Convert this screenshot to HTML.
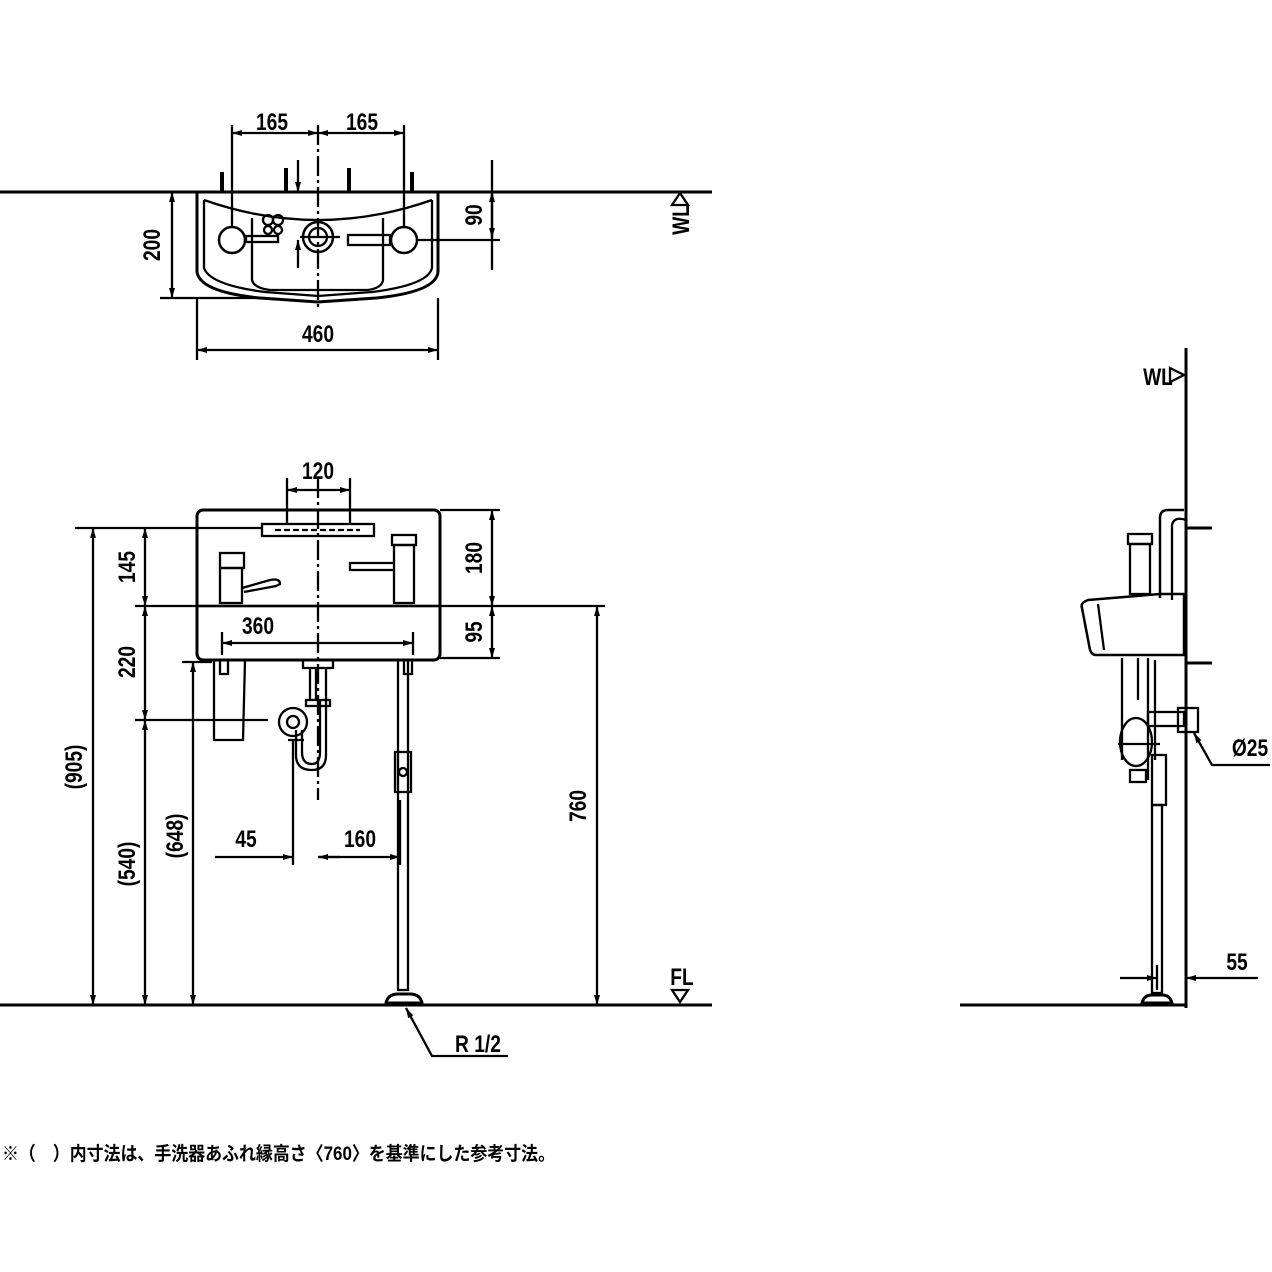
<!DOCTYPE html>
<html><head><meta charset="utf-8"><style>
html,body{margin:0;padding:0;background:#fff;}
svg{display:block}
text{font-family:"Liberation Sans","Noto Sans CJK JP",sans-serif;font-weight:bold;fill:#000}
.d{font-size:24px}
</style></head><body>
<svg width="1272" height="1272" viewBox="0 0 1272 1272" xmlns="http://www.w3.org/2000/svg">
<defs>
<marker id="a" viewBox="0 0 10 6" refX="10" refY="3" markerWidth="10" markerHeight="6" orient="auto-start-reverse" markerUnits="userSpaceOnUse"><path d="M0,0 L10,3 L0,6Z" fill="#000"/></marker>
</defs>
<g stroke="#000" fill="none" stroke-width="2.3">
<!-- TOP VIEW -->
<line x1="0" y1="192" x2="712" y2="192" stroke-width="3"/>
<path d="M197,192 L197,272 Q200,292 260,298 L318,302 L376,298 Q436,292 438,272 L438,192" stroke-width="3"/>
<path d="M204,200 L204,268 Q210,285 265,292 L318,296 L372,292 Q428,285 432,268 L432,200"/>
<path d="M204,200 Q318,240 432,200"/>
<path d="M252,218 L252,280 Q254,288 270,290 L368,290 Q382,288 383,280 L383,218"/>
<circle cx="232" cy="240" r="13" stroke-width="2.5"/>
<circle cx="404" cy="240" r="13" stroke-width="2.5"/>
<circle cx="318" cy="237" r="15" stroke-width="2.5"/>
<circle cx="318" cy="237" r="9"/>
<rect x="246" y="236" width="32" height="6"/>
<rect x="348" y="235" width="42" height="10"/>
<circle cx="268" cy="220" r="5"/><circle cx="278" cy="220" r="5"/><circle cx="268" cy="230" r="4"/><circle cx="278" cy="230" r="4"/>
<line x1="222" y1="172" x2="222" y2="192" stroke-width="4"/>
<line x1="286" y1="168" x2="286" y2="192" stroke-width="4"/>
<line x1="349" y1="168" x2="349" y2="192" stroke-width="4"/>
<line x1="412" y1="172" x2="412" y2="192" stroke-width="4"/>
<line x1="232" y1="125" x2="232" y2="228"/>
<line x1="404" y1="125" x2="404" y2="228"/>
<line x1="318" y1="125" x2="318" y2="310" stroke-dasharray="20,4,3,4"/>
<line x1="232" y1="133" x2="318" y2="133" marker-start="url(#a)" marker-end="url(#a)"/>
<line x1="318" y1="133" x2="404" y2="133" marker-start="url(#a)" marker-end="url(#a)"/>
<line x1="300" y1="237" x2="340" y2="237"/>
<line x1="298" y1="160" x2="298" y2="192" marker-end="url(#a)"/>
<line x1="298" y1="268" x2="298" y2="240" marker-end="url(#a)"/>
<line x1="417" y1="240" x2="500" y2="240"/>
<line x1="492" y1="160" x2="492" y2="270"/>
<line x1="492" y1="192" x2="492" y2="238" marker-start="url(#a)" marker-end="url(#a)"/>
<line x1="160" y1="192" x2="197" y2="192"/>
<line x1="160" y1="298" x2="260" y2="298"/>
<line x1="172" y1="192" x2="172" y2="298" marker-start="url(#a)" marker-end="url(#a)"/>
<line x1="197" y1="298" x2="197" y2="360"/>
<line x1="438" y1="298" x2="438" y2="360"/>
<line x1="197" y1="350" x2="438" y2="350" marker-start="url(#a)" marker-end="url(#a)"/>
<path d="M672,205 L680,193 L688,205Z"/>

<!-- FRONT VIEW -->
<line x1="0" y1="1005" x2="712" y2="1005" stroke-width="3"/>
<rect x="197" y="510" width="243" height="150" rx="6" stroke-width="3"/>
<line x1="197" y1="606" x2="440" y2="606" stroke-width="2.5"/>
<rect x="262" y="524" width="112" height="12"/>
<line x1="275" y1="530" x2="360" y2="530" stroke-dasharray="6,3"/>
<rect x="220" y="553" width="24" height="15"/><rect x="220" y="568" width="22" height="35"/>
<path d="M242,588 L270,580 Q280,578 280,584 L276,586 L244,592"/>
<rect x="392" y="535" width="24" height="10"/><rect x="394" y="545" width="20" height="58"/>
<path d="M394,563 L350,563 L350,570 L394,570"/>
<line x1="318" y1="478" x2="318" y2="800" stroke-dasharray="20,4,3,4"/>
<line x1="287" y1="478" x2="287" y2="524"/><line x1="350" y1="478" x2="350" y2="524"/>
<line x1="287" y1="490" x2="350" y2="490" marker-start="url(#a)" marker-end="url(#a)"/>
<line x1="222" y1="632" x2="222" y2="655"/><line x1="413" y1="632" x2="413" y2="655"/>
<line x1="222" y1="643" x2="413" y2="643" marker-start="url(#a)" marker-end="url(#a)"/>
<line x1="75" y1="528" x2="262" y2="528"/>
<line x1="135" y1="606" x2="605" y2="606"/>
<line x1="440" y1="510" x2="500" y2="510"/>
<line x1="440" y1="658" x2="500" y2="658"/>
<line x1="492" y1="510" x2="492" y2="606" marker-start="url(#a)" marker-end="url(#a)"/>
<line x1="492" y1="606" x2="492" y2="658" marker-start="url(#a)" marker-end="url(#a)"/>
<line x1="93" y1="528" x2="93" y2="1005" marker-start="url(#a)" marker-end="url(#a)"/>
<line x1="145" y1="528" x2="145" y2="606" marker-start="url(#a)" marker-end="url(#a)"/>
<line x1="145" y1="606" x2="145" y2="720" marker-start="url(#a)" marker-end="url(#a)"/>
<line x1="145" y1="720" x2="145" y2="1005" marker-start="url(#a)" marker-end="url(#a)"/>
<line x1="135" y1="720" x2="268" y2="720"/>
<line x1="182" y1="662" x2="212" y2="662"/>
<line x1="193" y1="662" x2="193" y2="1005" marker-start="url(#a)" marker-end="url(#a)"/>
<line x1="597" y1="606" x2="597" y2="1005" marker-start="url(#a)" marker-end="url(#a)"/>
<path d="M214,660 L214,740 L243,740 L245,660"/>
<rect x="220" y="660" width="8" height="14"/>
<rect x="404" y="660" width="8" height="14"/>
<rect x="303" y="660" width="30" height="8"/>
<path d="M310,668 L310,700 M326,668 L326,755 Q326,770 312,770 Q296,770 296,755 L296,730"/>
<path d="M316,668 L316,700 M320,700 L320,752 Q320,764 312,764 Q302,764 302,752 L302,730"/>
<rect x="306" y="700" width="24" height="6"/>
<circle cx="293" cy="722" r="14"/><circle cx="293" cy="722" r="6"/>
<line x1="288" y1="740" x2="304" y2="740"/>
<rect x="398" y="660" width="10" height="330"/>
<rect x="395" y="752" width="16" height="40"/><circle cx="403" cy="772" r="4"/>
<path d="M386,1003 Q388,994 398,994 L410,994 Q420,994 422,1003Z" stroke-width="3"/>
<line x1="293" y1="740" x2="293" y2="865"/>
<line x1="400" y1="800" x2="400" y2="865"/>
<line x1="215" y1="857" x2="293" y2="857" marker-end="url(#a)"/>
<line x1="340" y1="857" x2="318" y2="857" marker-end="url(#a)"/>
<line x1="318" y1="857" x2="400" y2="857" marker-end="url(#a)"/>
<path d="M672,990 L680,1002 L688,990Z"/>
<path d="M508,1056 L432,1056 L406,1008" marker-end="url(#a)"/>

<!-- SIDE VIEW -->
<line x1="1186" y1="348" x2="1186" y2="1008" stroke-width="3"/>
<line x1="960" y1="1005" x2="1186" y2="1005" stroke-width="3"/>
<path d="M1170,368 L1184,375 L1170,382Z"/>
<path d="M1186,528 L1212,528 M1186,663 L1212,663" stroke-width="3"/>
<path d="M1160,598 L1160,518 Q1160,510 1168,510 L1184,510" stroke-width="2.5"/>
<path d="M1172,600 L1172,525 Q1174,516 1186,520"/>
<rect x="1128" y="534" width="24" height="10"/><rect x="1130" y="544" width="20" height="50"/>
<path d="M1082,608 Q1080,603 1088,600 L1160,594 L1184,594 L1184,655 L1096,655 Q1092,655 1090,650Z" stroke-width="2.5"/>
<line x1="1098" y1="604" x2="1104" y2="650"/>
<line x1="1122" y1="658" x2="1122" y2="760"/>
<path d="M1138,658 L1138,700 M1148,658 L1148,780 M1155,660 L1155,760"/>
<ellipse cx="1136" cy="742" rx="16" ry="24"/>
<rect x="1148" y="712" width="36" height="14"/>
<rect x="1178" y="708" width="20" height="24"/>
<line x1="1118" y1="744" x2="1160" y2="744"/>
<rect x="1152" y="755" width="14" height="50"/>
<rect x="1130" y="770" width="16" height="12"/>
<rect x="1152" y="805" width="10" height="188"/>
<path d="M1142,1003 Q1144,995 1152,995 L1162,995 Q1170,995 1172,1003Z" stroke-width="3"/>
<path d="M1270,765 L1212,765 L1194,733" marker-end="url(#a)"/>
<line x1="1157" y1="965" x2="1157" y2="990"/>
<line x1="1120" y1="978" x2="1157" y2="978" marker-end="url(#a)"/>
<line x1="1258" y1="978" x2="1186" y2="978" marker-end="url(#a)"/>
</g>
<g class="d">
<text x="272" y="130" text-anchor="middle" transform="translate(272 0) scale(0.8 1) translate(-272 0)">165</text>
<text x="362" y="130" text-anchor="middle" transform="translate(362 0) scale(0.8 1) translate(-362 0)">165</text>
<text x="318" y="342" text-anchor="middle" transform="translate(318 0) scale(0.8 1) translate(-318 0)">460</text>
<text transform="translate(160 245) rotate(-90) scale(0.8 1)" text-anchor="middle">200</text>
<text transform="translate(482 215) rotate(-90) scale(0.8 1)" text-anchor="middle">90</text>
<text transform="translate(689 220) rotate(-90) scale(0.8 1)" text-anchor="middle">WL</text>
<text x="318" y="479" text-anchor="middle" transform="translate(318 0) scale(0.8 1) translate(-318 0)">120</text>
<text x="258" y="634" text-anchor="middle" transform="translate(258 0) scale(0.8 1) translate(-258 0)">360</text>
<text transform="translate(135 567) rotate(-90) scale(0.8 1)" text-anchor="middle">145</text>
<text transform="translate(135 662) rotate(-90) scale(0.8 1)" text-anchor="middle">220</text>
<text transform="translate(82 767) rotate(-90) scale(0.8 1)" text-anchor="middle">(905)</text>
<text transform="translate(135 864) rotate(-90) scale(0.8 1)" text-anchor="middle">(540)</text>
<text transform="translate(183 836) rotate(-90) scale(0.8 1)" text-anchor="middle">(648)</text>
<text transform="translate(586 806) rotate(-90) scale(0.8 1)" text-anchor="middle">760</text>
<text transform="translate(482 558) rotate(-90) scale(0.8 1)" text-anchor="middle">180</text>
<text transform="translate(482 632) rotate(-90) scale(0.8 1)" text-anchor="middle">95</text>
<text x="246" y="847" text-anchor="middle" transform="translate(246 0) scale(0.8 1) translate(-246 0)">45</text>
<text x="360" y="847" text-anchor="middle" transform="translate(360 0) scale(0.8 1) translate(-360 0)">160</text>
<text x="682" y="985" text-anchor="middle" transform="translate(682 0) scale(0.8 1) translate(-682 0)">FL</text>
<text x="478" y="1052" text-anchor="middle" transform="translate(478 0) scale(0.8 1) translate(-478 0)">R 1/2</text>
<text x="1158" y="385" text-anchor="middle" transform="translate(1158 0) scale(0.8 1) translate(-1158 0)">WL</text>
<text x="1250" y="756" text-anchor="middle" transform="translate(1250 0) scale(0.8 1) translate(-1250 0)">Ø25</text>
<text x="1237" y="970" text-anchor="middle" transform="translate(1237 0) scale(0.8 1) translate(-1237 0)">55</text>
</g>
<text x="2" y="1160" style="font-size:19px" textLength="553" lengthAdjust="spacingAndGlyphs">※（　）内寸法は、手洗器あふれ縁高さ〈760〉を基準にした参考寸法。</text>
</svg>
</body></html>
